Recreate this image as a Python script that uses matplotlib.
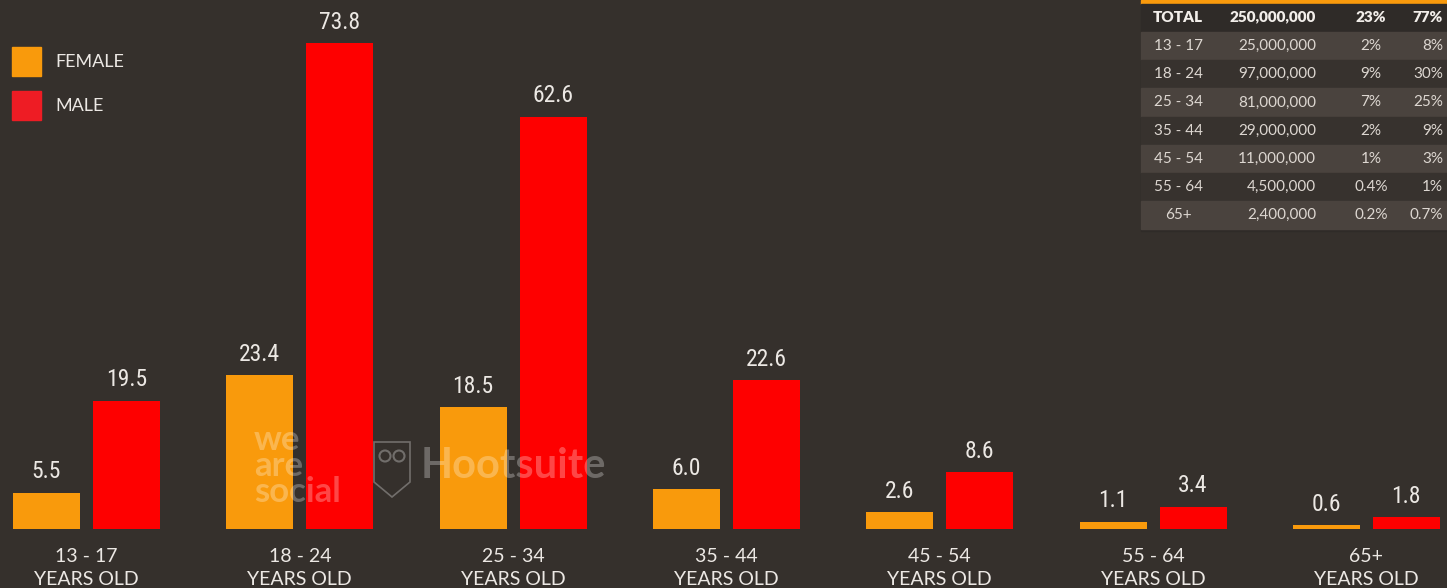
import matplotlib
matplotlib.use('Agg')
import matplotlib.pyplot as plt
from matplotlib.patches import Rectangle, Polygon, Circle
import numpy as np

# audience by age group, millions
age_groups = ['13 - 17', '18 - 24', '25 - 34', '35 - 44', '45 - 54', '55 - 64', '65+']
female = [5.5, 23.4, 18.5, 6.0, 2.6, 1.1, 0.6]
male = [19.5, 73.8, 62.6, 22.6, 8.6, 3.4, 1.8]

# summary table
table_total = ['TOTAL', '250,000,000', '23%', '77%']
table_ages = ['13 - 17', '18 - 24', '25 - 34', '35 - 44', '45 - 54', '55 - 64', '65+']
table_people = ['25,000,000', '97,000,000', '81,000,000', '29,000,000', '11,000,000', '4,500,000', '2,400,000']
table_female = ['2%', '9%', '7%', '2%', '1%', '0.4%', '0.2%']
table_male = ['8%', '30%', '25%', '9%', '3%', '1%', '0.7%']

BG = '#35302c'
ORANGE = '#f99a0c'
RED = '#fe0000'
TXT = '#ece8e4'
NARROW = ['Roboto Condensed', 'DejaVu Sans']
SANS = ['Lato', 'DejaVu Sans']

W, H = 1447, 588
fig = plt.figure(figsize=(W / 100, H / 100), dpi=100, facecolor=BG)

# bar axes: baseline sits 59 px above the bottom edge
ax = fig.add_axes([0, 59 / H, 1, (H - 59) / H])
ax.set_facecolor('none')
x = np.arange(len(age_groups))
off, bw = 0.1875, 0.314
ax.bar(x - off, female, width=bw, color=ORANGE, zorder=2)
ax.bar(x + off, male, width=bw, color=RED, zorder=2)
ax.set_xlim(-0.4055, 6.378)
ax.set_ylim(0, 80.33)
for xi, f, m in zip(x, female, male):
    ax.annotate(f'{f:.1f}', (xi - off, f), xytext=(0, 15), textcoords='offset points',
                ha='center', va='center', color=TXT, fontsize=17, family=NARROW,
                fontstretch='condensed')
    ax.annotate(f'{m:.1f}', (xi + off, m), xytext=(0, 15), textcoords='offset points',
                ha='center', va='center', color=TXT, fontsize=17, family=NARROW,
                fontstretch='condensed')
ax.set_xticks(x)
ax.set_xticklabels([g + '\nYEARS OLD' for g in age_groups], color=TXT, fontsize=14,
                   family=SANS, linespacing=1.4)
ax.tick_params(axis='x', length=0, pad=14)
ax.set_yticks([])
for s in ax.spines.values():
    s.set_visible(False)

# overlay in pixel coordinates for legend, table and watermark
ov = fig.add_axes([0, 0, 1, 1])
ov.set_xlim(0, W)
ov.set_ylim(H, 0)
ov.axis('off')
ov.set_facecolor('none')

ov.add_patch(Rectangle((12, 47), 29, 29, color=ORANGE))
ov.add_patch(Rectangle((12, 91), 29, 29, color='#ee1c24'))
ov.text(55, 62, 'FEMALE', color=TXT, fontsize=13, family=SANS, va='center')
ov.text(55, 106, 'MALE', color=TXT, fontsize=13, family=SANS, va='center')

# table
tx0 = 1141
ov.add_patch(Rectangle((tx0, 0), W - tx0, 3.5, color=ORANGE))
ov.add_patch(Rectangle((tx0, 3.5), W - tx0, 227, color='#2f2b28'))
cols = [(1178, 'center'), (1316, 'right'), (1371, 'center'), (1443, 'right')]
for (cx, ha), t in zip(cols, table_total):
    ov.text(cx, 17, t, color='#f2eeea', fontsize=11, fontweight='heavy', family=SANS,
            ha=ha, va='center')
for i, row in enumerate(zip(table_ages, table_people, table_female, table_male)):
    yc = 46 + 28.2 * i
    shade = '#4a433e' if i % 2 == 0 else '#37322e'
    ov.add_patch(Rectangle((tx0, yc - 14), W - tx0, 28.2, color=shade))
    for (cx, ha), t in zip(cols, row):
        ov.text(cx, yc, t, color='#ddd7d1', fontsize=11, family=SANS, ha=ha, va='center')

# watermark
ov.text(254, 466, 'we\nare\nsocial', color='#ffffff', alpha=0.28, fontsize=25,
        fontweight='bold', family=SANS, va='center', ha='left', linespacing=0.78, zorder=5)
ov.text(421, 466, 'Hootsuite', color='#ffffff', alpha=0.28, fontsize=30,
        fontweight='bold', family=SANS, va='center', ha='left', zorder=5)
ov.add_patch(Polygon([(374, 442), (410, 442), (410, 482), (392, 497), (374, 482)],
                     closed=True, fill=False, edgecolor='#ffffff', alpha=0.3, lw=1.2, zorder=5))
for cx in (385, 399):
    ov.add_patch(Circle((cx, 456), 5.5, fill=False, edgecolor='#ffffff', alpha=0.3,
                        lw=1.5, zorder=5))

fig.savefig('out.png', dpi=100, facecolor=BG)
